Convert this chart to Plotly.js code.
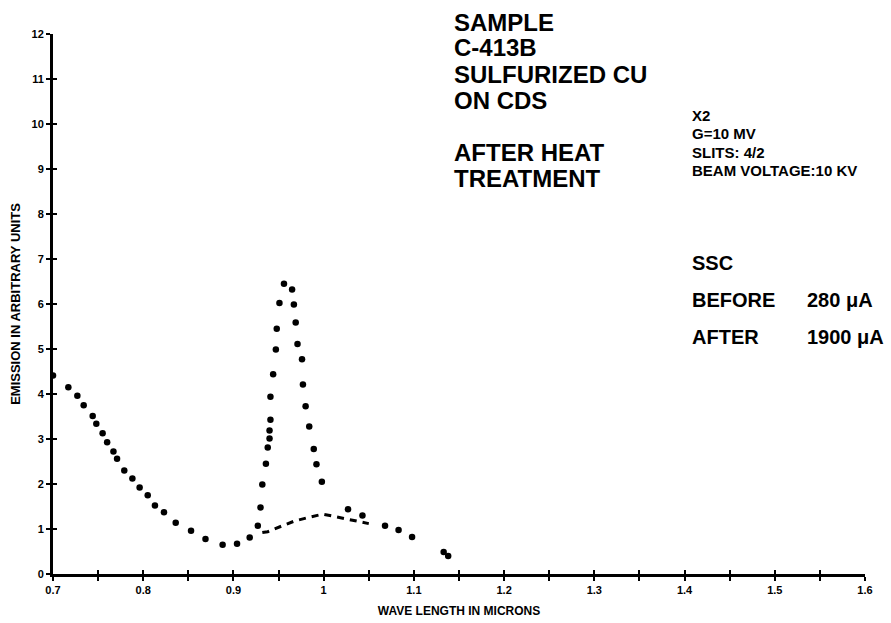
<!DOCTYPE html>
<html>
<head>
<meta charset="utf-8">
<script src="https://cdn.plot.ly/plotly-3.0.1.min.js"></script>
<style>html,body{margin:0;padding:0;background:#fff;}#chart{width:891px;height:623px;}</style>
</head>
<body>
<div id="chart"></div>
<script>
// ---- data ----
const dotWave = [0.700,0.717,0.727,0.734,0.744,0.748,0.755,0.760,0.767,0.771,0.779,0.788,0.796,0.805,0.813,0.823,0.836,0.853,0.869,0.888,0.904,0.918,0.927,0.930,0.932,0.936,0.938,0.940,0.940,0.941,0.941,0.944,0.947,0.948,0.951,0.956,0.965,0.967,0.969,0.971,0.976,0.977,0.980,0.984,0.989,0.992,0.998,1.027,1.043,1.068,1.083,1.098,1.133,1.138];
const dotEmission = [4.41,4.15,3.96,3.75,3.51,3.34,3.13,2.93,2.72,2.56,2.30,2.12,1.92,1.75,1.52,1.37,1.14,0.96,0.78,0.65,0.67,0.81,1.07,1.48,1.99,2.45,2.81,3.01,3.19,3.43,3.94,4.44,4.99,5.45,6.02,6.45,6.32,5.99,5.59,5.11,4.77,4.21,3.73,3.28,2.78,2.44,2.05,1.44,1.30,1.07,0.98,0.82,0.49,0.40];
const dashWave = [0.932,0.938,0.954,0.968,0.986,0.999,1.014,1.030,1.050];
const dashEmission = [0.92,0.94,1.07,1.18,1.27,1.33,1.27,1.21,1.12];

const xTickVals = [0.7,0.8,0.9,1.0,1.1,1.2,1.3,1.4,1.5,1.6];
const xTickLabels = ["0.7","0.8","0.9","1","1.1","1.2","1.3","1.4","1.5","1.6"];
const xMinorVals = [0.7,0.75,0.8,0.85,0.9,0.95,1.0,1.05,1.1,1.15,1.2,1.25,1.3,1.35,1.4,1.45,1.5,1.55,1.6];
const yTickVals = [0,1,2,3,4,5,6,7,8,9,10,11,12];
const yTickLabels = ["0","1","2","3","4","5","6","7","8","9","10","11","12"];

const sampleLines = ["SAMPLE","C-413B","SULFURIZED CU","ON CDS","","AFTER HEAT","TREATMENT"];
const settingLines = ["X2","G=10 MV","SLITS: 4/2","BEAM VOLTAGE:10 KV"];
const currentLabels = ["SSC","BEFORE","AFTER"];
const currentValues = ["","280 μA","1900 μA"];

const xTitle = "WAVE LENGTH IN MICRONS";
const yTitle = "EMISSION IN ARBITRARY UNITS";

// ---- drawing ----
const FONT = "Liberation Sans, Arial, sans-serif";
const W = 891, H = 623;
const M = {l:53, r:26, t:34, b:49};
const pw = W - M.l - M.r, ph = H - M.t - M.b;
const px2paperX = p => (p - M.l) / pw;
const py2paperY = p => (H - M.b - p) / ph;

const traces = [
  {x: dotWave, y: dotEmission, mode: 'markers', type: 'scatter',
   marker: {color: '#000', size: 6.5}, showlegend: false, hoverinfo: 'x+y'},
  {x: dashWave, y: dashEmission, mode: 'lines', type: 'scatter',
   line: {color: '#000', width: 3, dash: '7px,6px'}, showlegend: false},
  {x: [], y: [], xaxis: 'x2', yaxis: 'y2', mode: 'markers', showlegend: false, hoverinfo: 'skip'}
];

const annotations = [];
function addLines(lines, x0, y0, step, size) {
  lines.forEach((t, i) => {
    if (!t) return;
    annotations.push({text: t, xref: 'paper', yref: 'paper',
      x: px2paperX(x0), y: py2paperY(y0 + i*step), xanchor: 'left', yanchor: 'middle',
      showarrow: false, font: {family: FONT, size: size, color: '#000', weight: 'bold'}});
  });
}
addLines(sampleLines, 452, 22, 26, 24);
addLines(settingLines, 690, 115, 18.5, 15);
addLines(currentLabels, 690, 263, 37, 20);
addLines(currentValues, 805, 263, 37, 20);

const axCommon = {showgrid: false, zeroline: false, showline: true, linecolor: '#000', linewidth: 3,
  ticks: 'outside', ticklen: 4, tickwidth: 2, tickcolor: '#000',
  tickfont: {family: FONT, size: 11, color: '#000', weight: 'bold'}};

const layout = {
  width: W, height: H, margin: M,
  paper_bgcolor: '#fff', plot_bgcolor: '#fff',
  xaxis: Object.assign({}, axCommon, {range: [0.7, 1.6], tickmode: 'array',
    tickvals: xTickVals, ticktext: xTickLabels,
    minor: {tickmode: 'array', tickvals: xMinorVals, ticks: 'outside', ticklen: 4, tickwidth: 2, tickcolor: '#000'},
    title: {text: xTitle, standoff: 12, font: {family: FONT, size: 12, color: '#000', weight: 'bold'}}}),
  yaxis: Object.assign({}, axCommon, {range: [0, 12], tickmode: 'array',
    tickvals: yTickVals, ticktext: yTickLabels,
    title: {text: yTitle, standoff: 8, font: {family: FONT, size: 13, color: '#000', weight: 'bold'}}}),
  xaxis2: {overlaying: 'x', anchor: 'y2', side: 'bottom', range: [0.7, 1.6], tickmode: 'array',
    tickvals: xMinorVals, ticks: 'inside', ticklen: 4, tickwidth: 2, tickcolor: '#000',
    showticklabels: false, showline: false, showgrid: false, zeroline: false},
  yaxis2: {overlaying: 'y', anchor: 'x2', side: 'left', range: [0, 12], tickmode: 'array',
    tickvals: yTickVals, ticks: 'inside', ticklen: 4, tickwidth: 2, tickcolor: '#000',
    showticklabels: false, showline: false, showgrid: false, zeroline: false},
  annotations: annotations,
  showlegend: false
};

Plotly.newPlot('chart', traces, layout, {displayModeBar: false, staticPlot: true});
</script>
</body>
</html>
